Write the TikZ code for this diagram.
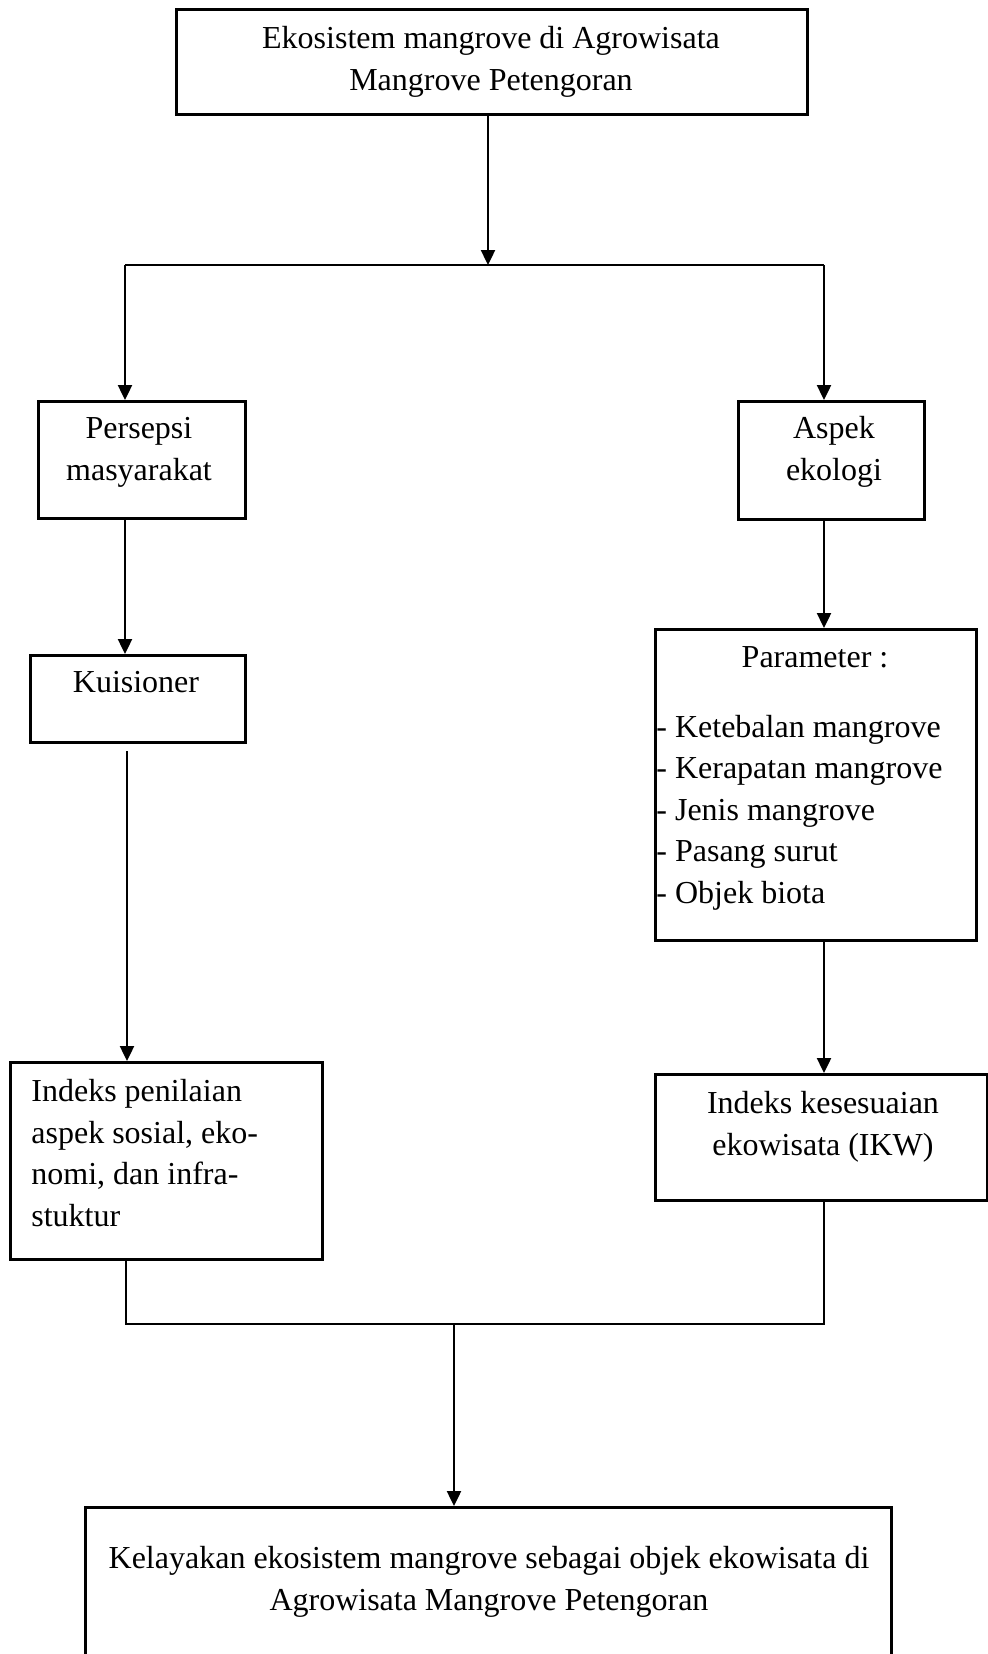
\documentclass[tikz,border=0pt]{standalone}
\usepackage{fontspec}
\setmainfont{Liberation Serif}
\usetikzlibrary{arrows.meta}
\begin{document}
\begin{tikzpicture}[x=0.5pt,y=-0.5pt,
  box/.style={draw=black,line width=1.3pt,rectangle,inner sep=0pt,anchor=north west},
  txt/.style={inner sep=0pt,anchor=base,font=\fontsize{16pt}{20.75pt}\selectfont,align=center},
  ltxt/.style={inner sep=0pt,anchor=base west,font=\fontsize{16pt}{20.75pt}\selectfont,align=left},
  arr/.style={line width=1.2pt,-{Triangle[length=7.5pt,width=7pt]}},
  conn/.style={line width=1pt}]
\useasboundingbox (0,0) rectangle (987,1654);
% boxes
\node[box,minimum width=315.5pt,minimum height=52.5pt] (top) at (175,8) {};
\node[box,minimum width=103.5pt,minimum height=58.5pt] (persepsi) at (37,400) {};
\node[box,minimum width=107.5pt,minimum height=43.5pt] (kuis) at (29,654) {};
\node[box,minimum width=93pt,minimum height=59pt] (aspek) at (737,400) {};
\node[box,minimum width=160.5pt,minimum height=155.5pt] (param) at (654,628) {};
\node[box,minimum width=166pt,minimum height=63pt] (ikw) at (654,1073) {};
\node[box,minimum width=156pt,minimum height=98.5pt] (penilaian) at (9,1061) {};
\node[box,minimum width=403pt,minimum height=85pt] (final) at (84,1506) {};
% texts (anchored at the baseline of the last line)
\node[txt] (ttop) at (491,90) {Ekosistem mangrove di Agrowisata\\Mangrove Petengoran};
\node[txt] (tpersepsi) at (139,480) {Persepsi\\masyarakat};
\node[txt] (tkuis) at (136,692) {Kuisioner};
\node[txt] (taspek) at (834,480) {Aspek\\ekologi};
\node[txt] (tparam) at (815,667) {Parameter :};
\node[ltxt] (titems) at (656,903) {- Ketebalan mangrove\\- Kerapatan mangrove\\- Jenis mangrove\\- Pasang surut\\- Objek biota};
\node[txt] (tikw) at (823,1155) {Indeks kesesuaian\\ekowisata (IKW)};
\node[ltxt] (tpenilaian) at (31,1226) {Indeks penilaian\\aspek sosial, eko-\\nomi, dan infra-\\stuktur};
\node[txt] (tfinal) at (489,1610) {Kelayakan ekosistem mangrove sebagai objek ekowisata di\\Agrowisata Mangrove Petengoran};
% junction coordinates
\coordinate (j0) at (488,265);
\coordinate (jL) at (125,265);
\coordinate (jR) at (824,265);
\coordinate (k0) at (127,751);
\coordinate (bL) at (126,1324);
\coordinate (bR) at (824,1324);
\coordinate (bC) at (454,1324);
% connectors
\draw[arr] (top.south -| j0) -- (j0);
\draw[line width=1.3pt] (jL) -- (jR);
\draw[arr] (jL) -- (jL |- persepsi.north);
\draw[arr] (jR) -- (jR |- aspek.north);
\draw[arr] (persepsi.south -| jL) -- (kuis.north -| jL);
\draw[arr] (k0) -- (k0 |- penilaian.north);
\draw[arr] (aspek.south -| jR) -- (param.north -| jR);
\draw[arr] (param.south -| jR) -- (ikw.north -| jR);
\draw[conn] (penilaian.south -| bL) -- (bL) -- (bR) -- (ikw.south -| bR);
\draw[arr] (bC) -- (bC |- final.north);
\end{tikzpicture}
\end{document}
